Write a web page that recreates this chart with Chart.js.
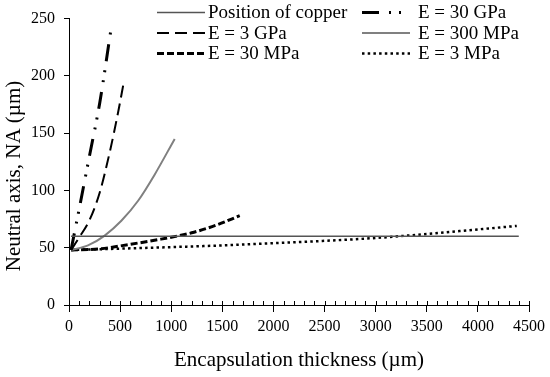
<!DOCTYPE html>
<html lang="en">
<head>
<meta charset="UTF-8">
<title>Neutral axis vs encapsulation thickness</title>
<script src="https://cdn.jsdelivr.net/npm/chart.js"></script>
<style>
    body { margin: 0; background: #fff; }
    #box { width: 550px; height: 377px; }
</style>
</head>
<body>
<div id="box"><canvas id="myChart"></canvas></div>

<script>
    // values: thickness (um) -> neutral axis (um)
    const copperX = [20, 4400];
    const copperY = [60, 60];

    const gpa30X = [20, 60, 100, 200, 300, 408];
    const gpa30Y = [48, 66, 84, 130, 176, 239];

    const gpa3X = [20, 100, 200, 300, 400, 480, 535];
    const gpa3Y = [48, 59, 74, 98, 134, 168, 194];

    const mpa300X = [20, 186, 349, 512, 676, 839, 1034];
    const mpa300Y = [48, 52, 60.6, 73.5, 91, 114, 145];

    const mpa30X = [20, 300, 600, 900, 1200, 1450, 1670];
    const mpa30Y = [48, 49, 53, 57.5, 63, 70, 78];

    const mpa3X = [20, 800, 1500, 2000, 2500, 3000, 3500, 4000, 4380];
    const mpa3Y = [48, 50, 52, 54, 56, 58.5, 62, 66, 69];

    const yTicks = [0, 50, 100, 150, 200, 250];

    function pts(xs, ys) {
        return xs.map((x, i) => ({ x: x, y: ys[i] }));
    }

    const serif = '"Liberation Serif", "DejaVu Serif", serif';

    // two-column legend drawn in the top of the plot
    const legendPlugin = {
        id: 'twoColLegend',
        afterDraw(chart) {
            const ctx = chart.ctx;
            const lineX = [157, 362];
            const textX = [208, 418];
            chart.data.datasets.forEach((ds, i) => {
                const col = i % 2;
                const row = Math.floor(i / 2);
                const y = 12.5 + row * 20.5;
                ctx.save();
                ctx.strokeStyle = ds.borderColor;
                ctx.lineWidth = ds.borderWidth;
                ctx.setLineDash(ds.borderDash || []);
                ctx.beginPath();
                ctx.moveTo(lineX[col], y);
                ctx.lineTo(lineX[col] + 48, y);
                ctx.stroke();
                ctx.setLineDash([]);
                ctx.fillStyle = '#000';
                ctx.font = '19px ' + serif;
                ctx.textBaseline = 'middle';
                ctx.fillText(ds.label, textX[col], y + 1);
                ctx.restore();
            });
        }
    };

    // small tick marks on the inner side of the x axis + y axis title
    const innerTicks = {
        id: 'innerTicks',
        afterDraw(chart) {
            const sc = chart.scales.x;
            const ctx = chart.ctx;
            ctx.save();
            ctx.strokeStyle = '#000';
            ctx.lineWidth = 1;
            sc.ticks.forEach(t => {
                const px = Math.round(sc.getPixelForValue(t.value)) + 0.5;
                ctx.beginPath();
                ctx.moveTo(px, sc.top - 4);
                ctx.lineTo(px, sc.top);
                ctx.stroke();
            });
            ctx.translate(14, 176);
            ctx.rotate(-Math.PI / 2);
            ctx.fillStyle = '#000';
            ctx.font = '21px ' + serif;
            ctx.textAlign = 'center';
            ctx.textBaseline = 'middle';
            ctx.fillText('Neutral axis, NA (µm)', 0, 0);
            ctx.restore();
        }
    };

    const ctx = document.getElementById('myChart');
    const myChart = new Chart(ctx, {
        type: 'line',
        data: {
            datasets: [
                {
                    label: 'Position of copper',
                    data: pts(copperX, copperY),
                    borderColor: '#555555',
                    borderWidth: 1.3,
                    borderDash: []
                },
                {
                    label: 'E = 30 GPa',
                    data: pts(gpa30X, gpa30Y),
                    borderColor: '#000000',
                    borderWidth: 3,
                    borderDash: [17, 10, 2, 8, 2, 9]
                },
                {
                    label: 'E = 3 GPa',
                    data: pts(gpa3X, gpa3Y),
                    borderColor: '#000000',
                    borderWidth: 2,
                    borderDash: [12, 6]
                },
                {
                    label: 'E = 300 MPa',
                    data: pts(mpa300X, mpa300Y),
                    borderColor: '#808080',
                    borderWidth: 2,
                    borderDash: []
                },
                {
                    label: 'E = 30 MPa',
                    data: pts(mpa30X, mpa30Y),
                    borderColor: '#000000',
                    borderWidth: 3,
                    borderDash: [7, 3]
                },
                {
                    label: 'E = 3 MPa',
                    data: pts(mpa3X, mpa3Y),
                    borderColor: '#000000',
                    borderWidth: 2.5,
                    borderDash: [2.5, 3.2]
                }
            ]
        },
        options: {
            responsive: true,
            maintainAspectRatio: false,
            animation: false,
            devicePixelRatio: 1,
            layout: { padding: { top: 15, right: 20, left: 0, bottom: 0 } },
            elements: {
                point: { radius: 0 },
                line: { cubicInterpolationMode: 'monotone', fill: false }
            },
            plugins: {
                legend: { display: false },
                tooltip: { enabled: false }
            },
            scales: {
                x: {
                    type: 'linear',
                    min: 0,
                    max: 4500,
                    afterFit(scale) { scale.height = 72; },
                    border: { display: true, color: '#000', width: 1 },
                    grid: {
                        drawOnChartArea: false,
                        tickLength: 7,
                        tickColor: (c) => (c.tick && c.tick.value % 500 === 0) ? '#000' : 'rgba(0,0,0,0)'
                    },
                    ticks: {
                        stepSize: 100,
                        autoSkip: false,
                        maxRotation: 0,
                        padding: 5,
                        color: '#000',
                        font: { family: serif, size: 16 },
                        callback: (v) => v % 500 === 0 ? v : ''
                    },
                    title: {
                        display: true,
                        text: 'Encapsulation thickness (µm)',
                        color: '#000',
                        font: { family: serif, size: 21 },
                        padding: { top: 3 }
                    }
                },
                y: {
                    min: 0,
                    max: 250,
                    afterFit(scale) { scale.width = 69; },
                    afterBuildTicks(scale) {
                        scale.ticks = yTicks.map(v => ({ value: v }));
                    },
                    border: { display: true, color: '#000', width: 1 },
                    grid: {
                        drawOnChartArea: false,
                        tickLength: 5,
                        color: '#000'
                    },
                    ticks: {
                        padding: 9,
                        color: '#000',
                        font: { family: serif, size: 16 }
                    },
                    title: { display: false }
                }
            }
        },
        plugins: [legendPlugin, innerTicks]
    });
</script>
</body>
</html>
